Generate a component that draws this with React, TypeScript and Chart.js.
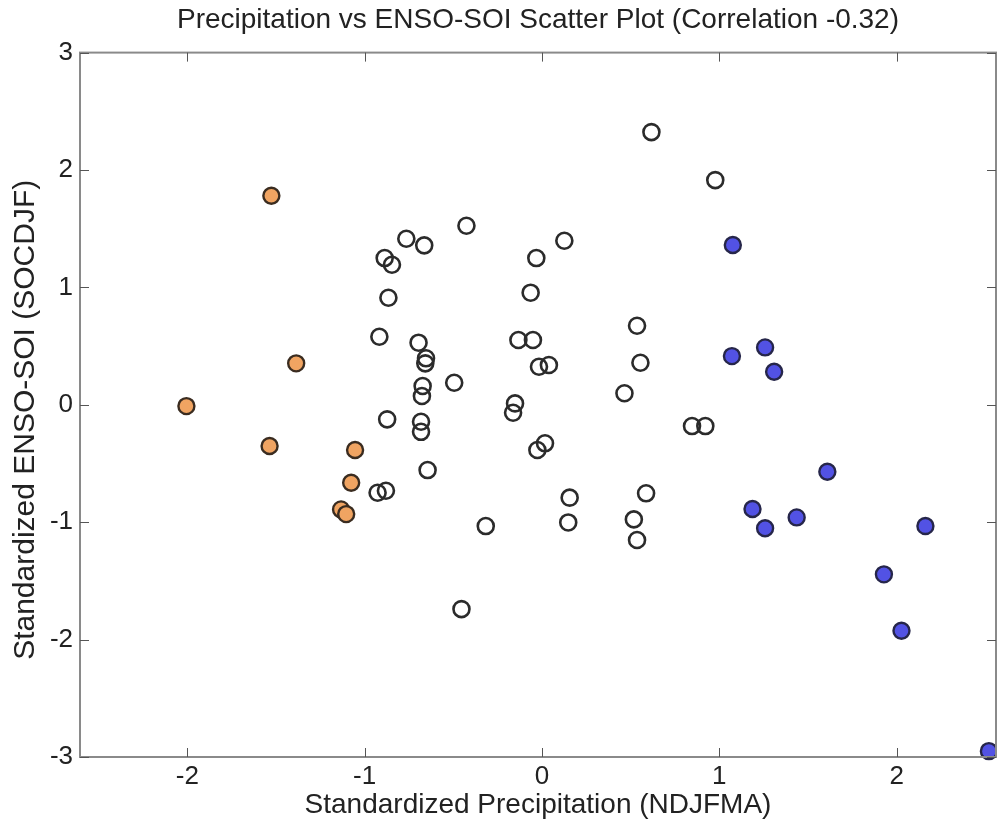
import React, { useEffect, useRef } from "react";
import { Chart, registerables } from "chart.js";

Chart.register(...registerables);

const CHART_TITLE = "Precipitation vs ENSO-SOI Scatter Plot (Correlation -0.32)";
const X_TITLE = "Standardized Precipitation (NDJFMA)";
const Y_TITLE = "Standardized ENSO-SOI (SOCDJF)";

const xTickValues = [-2, -1, 0, 1, 2];
const yTickValues = [-3, -2, -1, 0, 1, 2, 3];

// Neutral years (open circles)
const neutralX = [
  -0.426, -0.765, -0.664, -0.887, -0.846, -0.866, -0.917, -0.696, -0.654, -0.658,
  -0.495, -0.673, -0.677, -0.873, -0.682, -0.682, -0.645, -0.927, -0.88, -0.317,
  -0.454, 0.617, 0.977, 0.126, -0.032, -0.064, -0.133, -0.051, 0.536, 0.555,
  -0.017, 0.039, 0.465, -0.152, -0.163, 0.846, 0.921, 0.017, -0.026, 0.156,
  0.148, 0.587, 0.518, 0.536,
];
const neutralY = [
  1.525, 1.414, 1.358, 1.25, 1.193, 0.912, 0.58, 0.529, 0.396, 0.353,
  0.188, 0.16, 0.075, -0.124, -0.144, -0.23, -0.556, -0.749, -0.732, -1.033,
  -1.74, 2.323, 1.914, 1.397, 1.25, 0.955, 0.552, 0.552, 0.673, 0.358,
  0.324, 0.339, 0.098, 0.012, -0.068, -0.181, -0.181, -0.328, -0.385, -0.791,
  -1.002, -0.754, -0.976, -1.152,
];

// Dry years (orange filled)
const dryX = [-1.526, -1.386, -2.005, -1.536, -1.054, -1.076, -1.133, -1.104];
const dryY = [1.781, 0.353, -0.011, -0.351, -0.385, -0.664, -0.891, -0.931];

// Wet years (blue filled)
const wetX = [1.076, 1.071, 1.258, 1.309, 1.609, 1.187, 1.258, 1.436, 2.162, 1.928, 2.027, 2.52];
const wetY = [1.361, 0.415, 0.489, 0.282, -0.57, -0.888, -1.052, -0.959, -1.033, -1.444, -1.925, -2.95];

const X_MIN = -2.605;
const X_MAX = 2.56;
const Y_MIN = -3;
const Y_MAX = 3;

const toPoints = (xs: number[], ys: number[]) => xs.map((x, i) => ({ x, y: ys[i] }));

const FONT = "'Liberation Sans', Arial, Helvetica, sans-serif";
const TEXT_COLOR = "#222";

const boxPlugin = {
  id: "matlabBox",
  afterDatasetsDraw(chart: any) {
    const { ctx, chartArea } = chart;
    const { left, right, top, bottom } = chartArea;
    const xs = chart.scales.x;
    const ys = chart.scales.y;
    ctx.save();
    ctx.strokeStyle = "#8a8a8a";
    ctx.lineWidth = 2;
    ctx.strokeRect(left, top, right - left, bottom - top);
    ctx.strokeStyle = "#555";
    ctx.lineWidth = 1;
    const len = 9;
    ctx.beginPath();
    xTickValues.forEach((v) => {
      const px = Math.round(xs.getPixelForValue(v)) + 0.5;
      ctx.moveTo(px, bottom);
      ctx.lineTo(px, bottom - len);
      ctx.moveTo(px, top);
      ctx.lineTo(px, top + len);
    });
    yTickValues.forEach((v) => {
      const py = Math.round(ys.getPixelForValue(v)) + 0.5;
      ctx.moveTo(left, py);
      ctx.lineTo(left + len, py);
      ctx.moveTo(right, py);
      ctx.lineTo(right - len, py);
    });
    ctx.stroke();

    // y-axis label (slightly below the axis centre, as in the MATLAB figure)
    ctx.fillStyle = TEXT_COLOR;
    ctx.font = `30px ${FONT}`;
    ctx.textAlign = "center";
    ctx.textBaseline = "middle";
    ctx.translate(26, (top + bottom) / 2 + 15);
    ctx.rotate(-Math.PI / 2);
    ctx.fillText(Y_TITLE, 0, 0);
    ctx.restore();
  },
};

export default function App() {
  const ref = useRef<HTMLCanvasElement>(null);
  useEffect(() => {
    if (!ref.current) return;
    const chart = new Chart(ref.current, {
      type: "scatter",
      data: {
        datasets: [
          {
            label: "Neutral",
            data: toPoints(neutralX, neutralY),
            backgroundColor: "rgba(0,0,0,0)",
            borderColor: "#2b2b2b",
            borderWidth: 2.6,
            pointRadius: 8,
            clip: false as any,
          },
          {
            label: "Dry",
            data: toPoints(dryX, dryY),
            backgroundColor: "#f0a462",
            borderColor: "#3a2c20",
            borderWidth: 2.4,
            pointRadius: 8,
            clip: false as any,
          },
          {
            label: "Wet",
            data: toPoints(wetX, wetY),
            backgroundColor: "#5252e4",
            borderColor: "#26264a",
            borderWidth: 2.4,
            pointRadius: 8,
            clip: false as any,
          },
        ],
      },
      options: {
        responsive: false,
        animation: false,
        layout: { autoPadding: false, padding: { top: 0, right: 1, left: 0, bottom: 0 } },
        plugins: {
          legend: { display: false },
          tooltip: { enabled: false },
          title: {
            display: true,
            fullSize: false,
            text: CHART_TITLE,
            color: TEXT_COLOR,
            font: { family: FONT, size: 28, weight: "normal" as any },
            padding: { top: 3, bottom: 16 },
          },
        },
        scales: {
          x: {
            type: "linear",
            min: X_MIN,
            max: X_MAX,
            afterBuildTicks: (scale: any) => {
              scale.ticks = xTickValues.map((v) => ({ value: v }));
            },
            afterFit: (scale: any) => {
              scale.height = 71;
            },
            grid: { display: false, drawTicks: false },
            border: { display: false },
            ticks: {
              color: TEXT_COLOR,
              padding: 4,
              font: { family: FONT, size: 26 },
              callback: (v: any) => String(v),
            },
            title: {
              display: true,
              text: X_TITLE,
              color: TEXT_COLOR,
              font: { family: FONT, size: 28 },
              padding: { top: 0, bottom: 6 },
            },
          },
          y: {
            type: "linear",
            min: Y_MIN,
            max: Y_MAX,
            afterBuildTicks: (scale: any) => {
              scale.ticks = yTickValues.map((v) => ({ value: v }));
            },
            afterFit: (scale: any) => {
              scale.width = 80;
            },
            grid: { display: false, drawTicks: false },
            border: { display: false },
            ticks: {
              color: TEXT_COLOR,
              padding: 7,
              font: { family: FONT, size: 26 },
              callback: (v: any) => String(v),
            },
            title: { display: false, text: Y_TITLE },
          },
        },
      },
      plugins: [boxPlugin],
    });
    return () => chart.destroy();
  }, []);

  return (
    <div style={{ position: "absolute", left: 0, top: 0, width: 997, height: 828, background: "#fff" }}>
      <canvas ref={ref} width={997} height={828} style={{ display: "block" }} />
    </div>
  );
}
